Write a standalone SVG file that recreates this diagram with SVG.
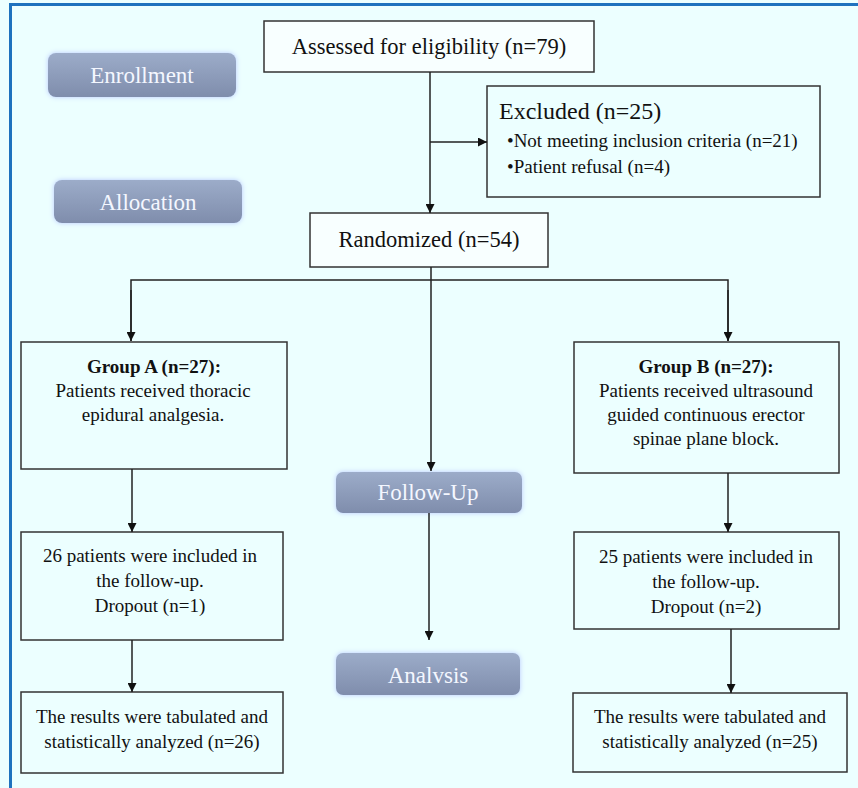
<svg xmlns="http://www.w3.org/2000/svg" width="858" height="788" viewBox="0 0 858 788">
<defs>
<linearGradient id="pillGrad" x1="0" y1="0" x2="0" y2="1">
<stop offset="0" stop-color="#9CACC9"/>
<stop offset="1" stop-color="#7F8DAC"/>
</linearGradient>
<filter id="glow" x="-10%" y="-30%" width="120%" height="160%">
<feGaussianBlur in="SourceAlpha" stdDeviation="2.5" result="b"/>
<feFlood flood-color="#B8C8FF"/>
<feComposite in2="b" operator="in" result="g"/>
<feMerge><feMergeNode in="g"/><feMergeNode in="SourceGraphic"/></feMerge>
</filter>
<marker id="arr" viewBox="0 0 10 10" refX="10" refY="5" markerWidth="9" markerHeight="9" markerUnits="userSpaceOnUse" orient="auto">
<path d="M0,0 L10,5 L0,10 z" fill="#111"/>
</marker>
</defs>
<style>
.box{fill:none;stroke:#333;stroke-width:1.5}
.wbox{fill:#F8FFFF;stroke:#333;stroke-width:1.5}
.pill{fill:url(#pillGrad);filter:url(#glow)}
.pt{font-family:"Liberation Serif","Times New Roman",serif;font-size:23px;fill:#F4F7FF;text-anchor:middle}
.h{font-family:"Liberation Serif","Times New Roman",serif;font-size:22.5px;fill:#111}
.hx{font-size:24px}
.c{text-anchor:middle}
.t{font-family:"Liberation Serif","Times New Roman",serif;font-size:19px;fill:#111;text-anchor:middle}
.s{font-family:"Liberation Serif","Times New Roman",serif;font-size:19px;fill:#111;text-anchor:start}
.b{font-weight:bold}
.l{fill:none;stroke:#222;stroke-width:1.5}
</style>
<rect x="0" y="0" width="858" height="788" fill="#ECFFFF"/>
<rect x="9" y="3" width="849" height="3" fill="#1E72BE"/>
<rect x="9" y="3" width="3" height="785" fill="#1E72BE"/>

<g id="enrollment"><rect class="pill" x="48" y="53" width="188" height="44" rx="8"/><text class="pt" x="142" y="83">Enrollment</text></g>
<g id="allocation"><rect class="pill" x="54" y="180" width="188" height="43" rx="8"/><text class="pt" x="148" y="210">Allocation</text></g>
<g id="followup"><rect class="pill" x="336" y="472" width="186" height="41" rx="7"/><text class="pt" x="428" y="500">Follow-Up</text></g>
<g id="analysis"><rect class="pill" x="336" y="653" width="184" height="42" rx="7"/><text class="pt" x="428" y="683">Analvsis</text></g>

<g id="assessed"><rect class="wbox" x="264" y="21" width="330" height="51"/><text class="h c" x="429" y="54">Assessed for eligibility (n=79)</text></g>
<g id="excluded"><rect class="box" x="487" y="86" width="333" height="111"/>
<text class="h hx" x="499" y="119">Excluded (n=25)</text>
<text class="s" x="507" y="147">•Not meeting inclusion criteria (n=21)</text>
<text class="s" x="507" y="173">•Patient refusal (n=4)</text></g>
<g id="randomized"><rect class="wbox" x="310" y="213" width="238" height="54"/><text class="h c" x="429" y="247">Randomized (n=54)</text></g>

<g id="groupA"><rect class="box" x="21" y="342" width="266" height="127"/>
<text class="t b" x="154" y="373">Group A (n=27):</text>
<text class="t" x="153" y="397">Patients received thoracic</text>
<text class="t" x="153" y="421">epidural analgesia.</text></g>
<g id="groupB"><rect class="box" x="574" y="342" width="265" height="131"/>
<text class="t b" x="706" y="373">Group B (n=27):</text>
<text class="t" x="706" y="397">Patients received ultrasound</text>
<text class="t" x="706" y="421">guided continuous erector</text>
<text class="t" x="706" y="445">spinae plane block.</text></g>
<g id="followA"><rect class="box" x="21" y="532" width="262" height="108"/>
<text class="t" x="150" y="562">26 patients were included in</text>
<text class="t" x="150" y="587">the follow-up.</text>
<text class="t" x="150" y="612">Dropout (n=1)</text></g>
<g id="followB"><rect class="box" x="574" y="532" width="265" height="97"/>
<text class="t" x="706" y="563">25 patients were included in</text>
<text class="t" x="706" y="588">the follow-up.</text>
<text class="t" x="706" y="613">Dropout (n=2)</text></g>
<g id="resultA"><rect class="box" x="21" y="692" width="262" height="81"/>
<text class="t" x="152" y="723">The results were tabulated and</text>
<text class="t" x="152" y="748">statistically analyzed (n=26)</text></g>
<g id="resultB"><rect class="box" x="573" y="693" width="274" height="79"/>
<text class="t" x="710" y="723">The results were tabulated and</text>
<text class="t" x="710" y="748">statistically analyzed (n=25)</text></g>

<g id="connectors">
<line class="l" x1="430" y1="72" x2="430" y2="213" marker-end="url(#arr)"/>
<line class="l" x1="430" y1="142" x2="487" y2="142" marker-end="url(#arr)"/>
<line class="l" x1="431" y1="267" x2="431" y2="471" marker-end="url(#arr)"/>
<polyline class="l" points="131,341 131,280 728,280 728,341"/>
<line class="l" x1="131" y1="290" x2="131" y2="341" marker-end="url(#arr)"/>
<line class="l" x1="728" y1="290" x2="728" y2="341" marker-end="url(#arr)"/>
<line class="l" x1="132" y1="469" x2="132" y2="532" marker-end="url(#arr)"/>
<line class="l" x1="132" y1="640" x2="132" y2="692" marker-end="url(#arr)"/>
<line class="l" x1="728" y1="473" x2="728" y2="532" marker-end="url(#arr)"/>
<line class="l" x1="731" y1="629" x2="731" y2="693" marker-end="url(#arr)"/>
<line class="l" x1="429" y1="513" x2="429" y2="640" marker-end="url(#arr)"/>
</g>
</svg>
